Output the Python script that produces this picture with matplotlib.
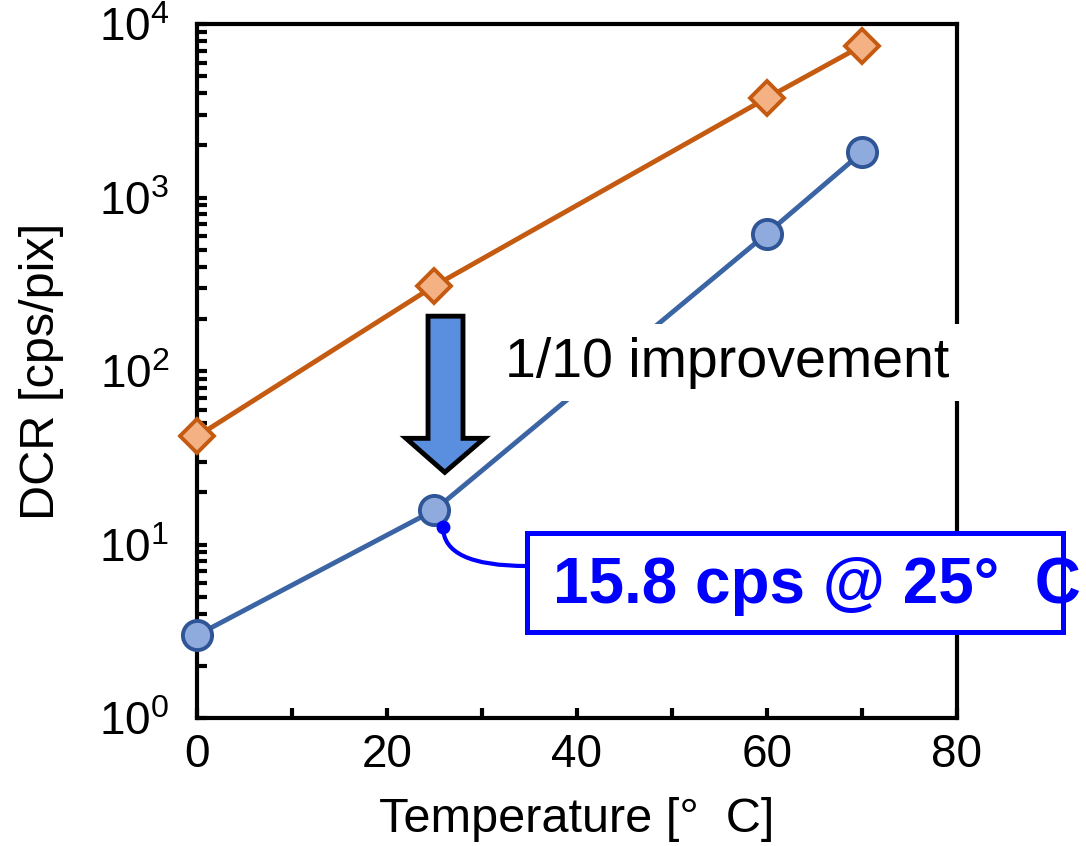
import matplotlib
matplotlib.use("Agg")
import matplotlib.pyplot as plt
from matplotlib.patches import Polygon, Rectangle
from matplotlib.ticker import LogLocator, NullFormatter

plt.rcParams['font.family'] = ['Liberation Sans', 'DejaVu Sans']
plt.rcParams['mathtext.fontset'] = 'custom'
plt.rcParams['mathtext.rm'] = 'Liberation Sans'
plt.rcParams['mathtext.it'] = 'Liberation Sans:italic'
plt.rcParams['mathtext.bf'] = 'Liberation Sans:bold'

# dark count rate vs. temperature
temps = [0, 25, 60, 70]
dcr_conventional = [42, 310, 3750, 7500]
dcr_improved = [3.0, 15.8, 620, 1820]

x_major = [0, 20, 40, 60, 80]
x_minor = [10, 30, 50, 70]

callout_point = (25.9, 12.6)
callout_text = "15.8 cps @ 25°  C"
note_text = "1/10 improvement"

fig = plt.figure(figsize=(10.86, 8.46), dpi=100)
ax = fig.add_axes([0.1814, 0.1513, 0.6998, 0.8203])

ax.plot(temps, dcr_conventional, color="#C55A11", lw=3.5, marker="D", ms=17,
        mfc="#F4B183", mec="#C55A11", mew=2.8, clip_on=False, zorder=4)
ax.plot(temps, dcr_improved, color="#3B64A4", lw=3.5, marker="o", ms=21,
        mfc="#8FAADC", mec="#2F5597", mew=2.8, clip_on=False, zorder=4)

ax.set_yscale("log")
ax.set_xlim(0, 80)
ax.set_ylim(1, 1e4)
ax.set_xticks(x_major)
ax.set_xticks(x_minor, minor=True)
ax.yaxis.set_minor_locator(LogLocator(base=10, subs=range(2, 10)))
ax.yaxis.set_minor_formatter(NullFormatter())

for s in ax.spines.values():
    s.set_linewidth(3)
ax.tick_params(which="both", direction="in", length=7, width=3,
               top=False, right=False, labelsize=33)
ax.tick_params(axis="x", pad=11)
ax.tick_params(axis="y", pad=20)

ax.set_xlabel("Temperature [°  C]", fontsize=35, labelpad=14)
ax.set_ylabel("DCR [cps/pix]", fontsize=35, va="center")
ax.yaxis.set_label_coords(-0.204, 0.5)

# fat down arrow marking the reduction
arrow_pts = [(0.304, 0.579), (0.350, 0.579), (0.350, 0.403), (0.378, 0.403),
             (0.326, 0.354), (0.275, 0.403), (0.304, 0.403)]
ax.add_patch(Polygon(arrow_pts, closed=True, transform=ax.transAxes,
                     fc="#5A8FE0", ec="black", lw=3.5, joinstyle="miter",
                     clip_on=False, zorder=5))

ax.text(0.698, 0.512, note_text, transform=ax.transAxes, fontsize=40,
        ha="center", va="center", zorder=6,
        bbox=dict(boxstyle="square,pad=0.22", fc="white", ec="none"))

# callout box with the value at 25 C
ax.add_patch(Rectangle((0.434, 0.124), 0.705, 0.1426, transform=ax.transAxes,
                       fc="white", ec="#0000FF", lw=3.6, clip_on=False,
                       zorder=6))
ax.text(0.468, 0.1657, callout_text, transform=ax.transAxes, fontsize=46,
        fontweight="bold", color="#0000FF", ha="left", va="baseline",
        zorder=7)
ax.annotate("", xy=callout_point, xycoords="data",
            xytext=(0.434, 0.219), textcoords="axes fraction",
            arrowprops=dict(arrowstyle="-", color="#0000FF", lw=3,
                            shrinkA=0, shrinkB=0,
                            connectionstyle="angle3,angleA=0,angleB=90"),
            zorder=6)
ax.plot([callout_point[0]], [callout_point[1]], "o", color="#0000FF", ms=9,
        clip_on=False, zorder=6)

fig.savefig("out.png", dpi=100)
